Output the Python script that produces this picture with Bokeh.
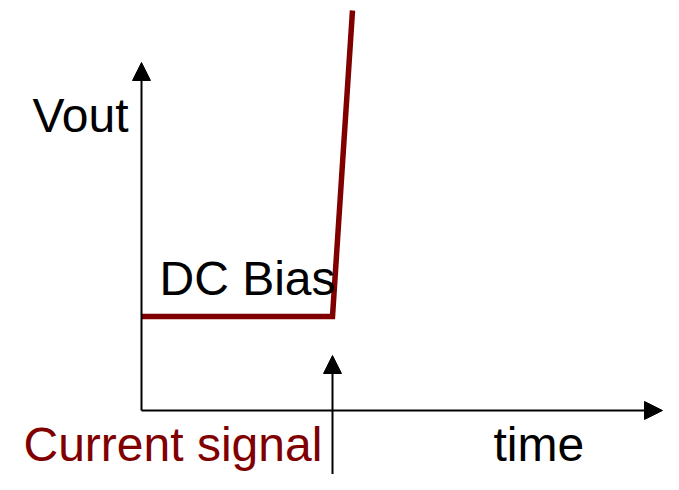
from bokeh.plotting import figure
from bokeh.models import Range1d, Arrow, NormalHead, ColumnDataSource
from bokeh.core.properties import value
from bokeh.embed import file_html
from bokeh.resources import INLINE

# Axis extents (origin at the corner of the axes)
x_axis_end = 521
y_axis_end = 348

# Signal trace: DC bias then a steep rise
signal_time = [0, 191, 211]
signal_vout = [94, 94, 400]

# Current signal marker (vertical arrow at the step time)
current_time = 191
current_from = -75
current_to = 55

labels = ["Vout", "DC Bias", "Current signal", "time"]
label_x = [-109, 18, -118, 352]
label_y = [295, 132, -34, -34]
label_colors = ["black", "black", "#800000", "black"]

p = figure(width=663, height=474, output_backend="svg", toolbar_location=None,
           x_range=Range1d(-141, 522), y_range=Range1d(-64, 410),
           min_border=0)
p.xaxis.visible = False
p.yaxis.visible = False
p.grid.visible = False
p.outline_line_color = None
p.background_fill_color = "white"
p.border_fill_color = "white"

# axes with arrowheads
p.add_layout(Arrow(end=NormalHead(size=18, fill_color="black", line_color="black"),
                   x_start=0, y_start=0, x_end=0, y_end=y_axis_end,
                   line_color="black", line_width=2))
p.add_layout(Arrow(end=NormalHead(size=18, fill_color="black", line_color="black"),
                   x_start=0, y_start=0, x_end=x_axis_end, y_end=0,
                   line_color="black", line_width=2))
# current signal arrow
p.add_layout(Arrow(end=NormalHead(size=18, fill_color="black", line_color="black"),
                   x_start=current_time, y_start=current_from, x_end=current_time, y_end=current_to,
                   line_color="black", line_width=2))

p.line(signal_time, signal_vout, line_color="#800000", line_width=5.5, line_join="miter")

src = ColumnDataSource(dict(x=label_x, y=label_y, text=labels, color=label_colors))
p.text(x="x", y="y", text="text", text_color="color", source=src,
       text_font=value("Liberation Sans"), text_font_size="48px",
       text_baseline="alphabetic", text_align="left")

open("out.html", "w").write(file_html(p, INLINE))
